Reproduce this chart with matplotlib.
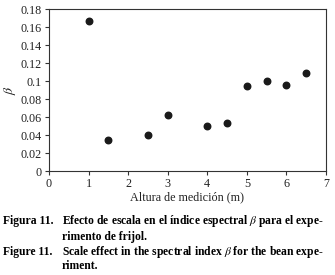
import matplotlib
matplotlib.use("Agg")
import matplotlib.pyplot as plt

altura = [1, 1.5, 2.5, 3, 4, 4.5, 5, 5.5, 6, 6.5]
beta = [0.167, 0.034, 0.0396, 0.062, 0.0505, 0.0535, 0.0948, 0.0996, 0.0956, 0.109]
xticks = [0, 1, 2, 3, 4, 5, 6, 7]
yticks = [0, 0.02, 0.04, 0.06, 0.08, 0.1, 0.12, 0.14, 0.16, 0.18]
yticklabels = ["0", "0.02", "0.04", "0.06", "0.08", "0.1", "0.12", "0.14", "0.16", "0.18"]

plt.rcParams['font.family'] = ['Liberation Serif', 'DejaVu Serif']
plt.rcParams['mathtext.fontset'] = 'stix'
W, H = 335, 275
fig = plt.figure(figsize=(W/100, H/100), dpi=100)
ax = fig.add_axes([49/W, 1-171/H, (326-49)/W, (171-9)/H])
ax.scatter(altura, beta, s=22, color='#1a1a1a', zorder=3)
ax.set_xlim(0, 7)
ax.set_ylim(0, 0.18)
ax.set_xticks(xticks)
ax.set_yticks(yticks)
ax.set_yticklabels(yticklabels)
ax.tick_params(labelsize=8.7, length=3, width=0.8, color='#333333', pad=2, labelcolor='#222222')
for s in ax.spines.values():
    s.set_color('#333333')
    s.set_linewidth(0.8)
ax.set_xlabel("Altura de medición (m)", fontsize=8.7, labelpad=1, color='#222222')
ax.set_ylabel(r"$\beta$", fontsize=10, labelpad=2, color='#222222')

fs = 8.4
fig.text(3/W, 1-221/H, "Figura 11.", fontsize=fs, fontweight='bold', va='center')
fig.text(62/W, 1-221/H, "Efecto de escala en el índice espectral $\\beta$ para el expe-", fontsize=fs, fontweight='bold', va='center')
fig.text(62/W, 1-237/H, "rimento de frijol.", fontsize=fs, fontweight='bold', va='center')
fig.text(3/W, 1-252/H, "Figure 11.", fontsize=fs, fontweight='bold', va='center')
fig.text(62/W, 1-252/H, "Scale effect in the spectral index $\\beta$ for the bean expe-", fontsize=fs, fontweight='bold', va='center')
fig.text(62/W, 1-266/H, "riment.", fontsize=fs, fontweight='bold', va='center')

fig.savefig("out.png", dpi=100)
